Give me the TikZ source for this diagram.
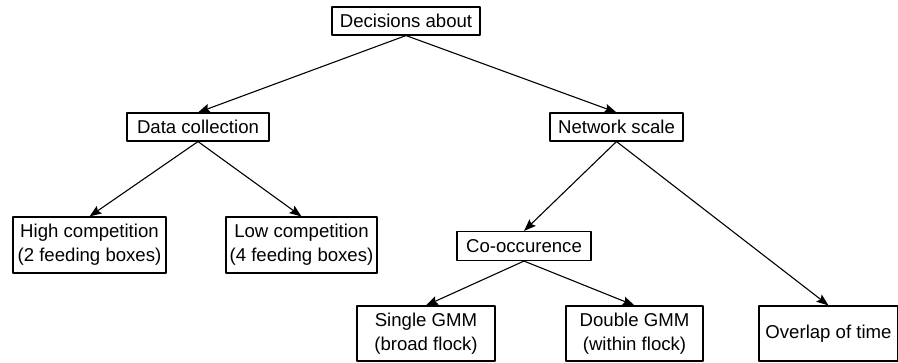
\documentclass[tikz,border=0pt]{standalone}
\usepackage{fontspec}
\setmainfont{Liberation Sans}
\usetikzlibrary{arrows.meta}

\begin{document}
\begin{tikzpicture}[x=1pt, y=-1pt, line join=bevel,
  box/.style={draw, line width=1.1pt, inner sep=0pt, align=center,
    font=\fontsize{18.6}{24}\selectfont},
  arr/.style={-{Stealth[length=12pt, width=9pt, inset=2pt]}, line width=1.1pt}]

\useasboundingbox (0,0) rectangle (898,362);

% levels
\node[box, minimum width=148pt, minimum height=28pt] (decide) at (406,21) {Decisions about};

\node[box, minimum width=142pt, minimum height=28pt] (data) at (198,127) {Data collection};
\node[box, minimum width=133pt, minimum height=28pt] (netscale) at (616.5,127) {Network scale};

\node[box, minimum width=153pt, minimum height=56pt] (highcomp) at (89.5,245) {High competition\\(2 feeding boxes)};
\node[box, minimum width=151pt, minimum height=56pt] (lowcomp) at (301.5,245) {Low competition\\(4 feeding boxes)};
\node[box, minimum width=134pt, minimum height=29pt] (cooc) at (524,246) {Co-occurence};

\node[box, minimum width=138pt, minimum height=55pt] (single) at (426,333.5) {Single GMM\\(broad flock)};
\node[box, minimum width=137pt, minimum height=55pt] (double) at (634.5,333.5) {Double GMM\\(within flock)};
\node[box, minimum width=139pt, minimum height=55pt] (overlap) at (828.5,333.5) {Overlap of time};

% arrows
\draw[arr] (decide.south) -- (data.north);
\draw[arr] (decide.south) -- (netscale.north);
\draw[arr] (data.south) -- (highcomp.north);
\draw[arr] (data.south) -- (lowcomp.north);
\draw[arr] (netscale.south) -- (cooc.north);
\draw[arr] (netscale.south) -- (overlap.north);
\draw[arr] (cooc.south) -- (single.north);
\draw[arr] (cooc.south) -- (double.north);

\end{tikzpicture}
\end{document}
